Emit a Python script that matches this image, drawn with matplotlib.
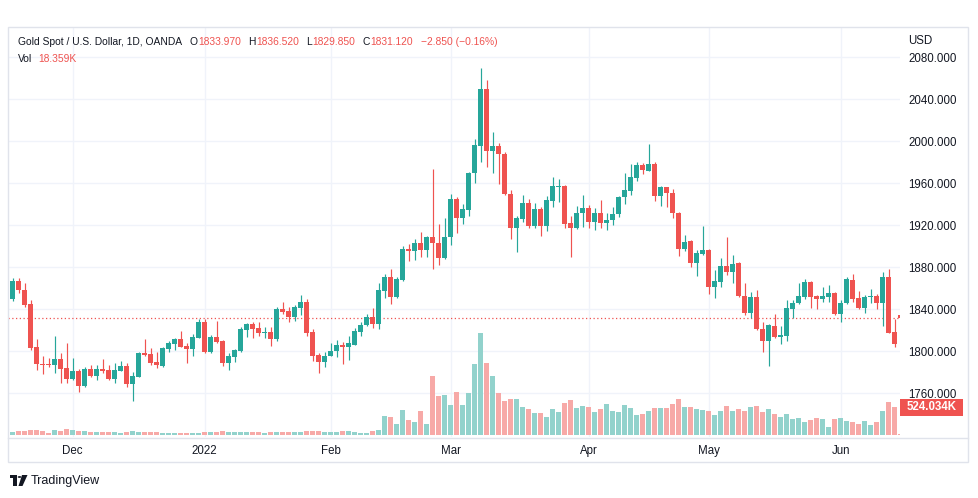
import matplotlib
matplotlib.use('Agg')
import matplotlib.pyplot as plt
from matplotlib.patches import Rectangle, Polygon, Circle
from matplotlib.lines import Line2D
import numpy as np

# ---------------- data (daily OHLC, Gold Spot / USD, OANDA) ----------------
opens = [1849.2, 1866.7, 1858.0, 1844.5, 1803.5, 1787.5, 1787.6, 1786.7, 1792.4, 1783.5,
         1773.0, 1781.3, 1767.0, 1782.5, 1776.5, 1782.8, 1781.9, 1773.3, 1781.3, 1785.7,
         1768.6, 1775.6, 1798.4, 1796.8, 1789.8, 1786.0, 1801.9, 1806.7, 1811.4, 1804.8,
         1801.9, 1812.7, 1827.9, 1798.7, 1813.0, 1809.8, 1788.9, 1794.6, 1800.0, 1820.0,
         1825.7, 1821.6, 1816.8, 1818.4, 1811.1, 1840.0, 1838.1, 1832.7, 1841.3, 1847.0,
         1817.8, 1796.2, 1789.8, 1795.5, 1800.0, 1805.7, 1803.5, 1805.7, 1818.4, 1824.8,
         1832.1, 1825.4, 1857.5, 1870.8, 1851.7, 1867.6, 1896.8, 1895.6, 1902.5, 1896.2,
         1908.3, 1902.5, 1888.3, 1908.3, 1944.7, 1927.0, 1934.3, 1969.2, 1995.5, 2049.5,
         1990.8, 1995.2, 1987.6, 1949.2, 1916.8, 1925.7, 1940.6, 1919.0, 1934.9, 1919.4,
         1943.2, 1956.5, 1957.1, 1921.6, 1917.5, 1931.1, 1935.9, 1923.2, 1931.1, 1921.6,
         1924.8, 1930.2, 1946.4, 1952.7, 1964.5, 1977.2, 1971.8, 1978.1, 1948.0, 1955.9,
         1950.8, 1931.1, 1896.9, 1904.8, 1884.2, 1892.4, 1896.2, 1861.3, 1866.0, 1880.9,
         1875.6, 1883.5, 1852.4, 1836.5, 1851.1, 1820.6, 1809.8, 1823.8, 1813.6, 1814.3,
         1840.0, 1845.4, 1851.7, 1865.4, 1852.4, 1849.2, 1851.7, 1855.5, 1835.2, 1845.4,
         1867.6, 1850.2, 1840.6, 1851.1, 1852.4, 1846.0, 1870.8, 1818.4, 1833.97]
highs = [1870.0, 1869.2, 1864.5, 1848.6, 1811.4, 1795.2, 1793.6, 1814.3, 1798.4, 1807.9,
         1793.6, 1782.5, 1784.4, 1786.7, 1786.7, 1792.1, 1786.7, 1788.3, 1790.8, 1788.9,
         1780.3, 1799.4, 1811.4, 1802.5, 1799.4, 1804.1, 1809.8, 1812.7, 1819.4, 1807.3,
         1816.2, 1830.1, 1830.1, 1815.2, 1828.6, 1810.5, 1797.8, 1801.6, 1822.5, 1827.0,
         1827.9, 1827.9, 1822.5, 1822.5, 1841.6, 1846.3, 1842.2, 1843.8, 1853.3, 1849.2,
         1820.6, 1798.4, 1798.7, 1807.9, 1810.5, 1808.9, 1814.3, 1821.6, 1827.9, 1835.2,
         1840.6, 1864.4, 1873.3, 1878.1, 1870.8, 1900.0, 1901.9, 1907.0, 1913.6, 1909.5,
         1973.3, 1920.6, 1926.3, 1949.2, 1947.0, 1940.0, 1970.8, 2001.9, 2069.8, 2058.1,
         2008.9, 1997.8, 1989.2, 1953.3, 1928.6, 1948.6, 1944.4, 1941.3, 1937.5, 1947.6,
         1965.4, 1963.8, 1958.1, 1928.6, 1938.1, 1948.6, 1939.1, 1935.9, 1943.8, 1931.8,
         1936.8, 1947.6, 1969.9, 1978.1, 1980.3, 1978.8, 1997.2, 1980.3, 1957.2, 1956.5,
         1954.0, 1932.7, 1910.5, 1905.7, 1896.2, 1919.0, 1896.8, 1877.1, 1888.3, 1908.9,
         1891.4, 1885.1, 1865.1, 1856.5, 1858.1, 1827.9, 1825.7, 1835.2, 1823.8, 1848.6,
         1848.6, 1865.1, 1868.3, 1866.7, 1853.3, 1860.6, 1862.9, 1856.5, 1848.6, 1870.2,
         1873.3, 1857.5, 1853.3, 1858.7, 1854.3, 1875.6, 1878.1, 1830.2, 1836.52]
lows = [1847.5, 1855.0, 1842.2, 1801.0, 1781.9, 1777.8, 1785.0, 1779.4, 1769.2, 1769.2,
        1772.4, 1761.3, 1765.4, 1775.0, 1772.4, 1778.8, 1772.4, 1769.2, 1780.5, 1765.4,
        1752.7, 1775.0, 1795.2, 1786.7, 1784.1, 1785.1, 1798.7, 1801.0, 1803.5, 1788.9,
        1795.6, 1812.1, 1797.8, 1797.8, 1807.9, 1786.0, 1781.9, 1789.8, 1799.4, 1813.6,
        1812.1, 1814.3, 1812.7, 1805.1, 1809.8, 1835.2, 1827.9, 1828.9, 1834.3, 1814.6,
        1790.8, 1779.4, 1785.1, 1795.2, 1794.0, 1787.6, 1791.4, 1805.4, 1814.6, 1824.1,
        1821.6, 1820.6, 1850.2, 1844.4, 1850.2, 1867.0, 1886.0, 1886.7, 1889.8, 1889.2,
        1878.1, 1881.9, 1887.6, 1900.9, 1912.7, 1920.9, 1928.6, 1960.3, 1980.3, 1975.6,
        1969.2, 1958.7, 1948.6, 1906.3, 1894.6, 1923.2, 1917.4, 1917.4, 1909.8, 1914.6,
        1936.8, 1942.2, 1916.8, 1889.9, 1915.9, 1918.4, 1917.5, 1915.3, 1917.5, 1915.3,
        1920.0, 1927.3, 1940.0, 1948.6, 1962.2, 1968.3, 1971.5, 1943.2, 1938.4, 1936.8,
        1926.4, 1890.8, 1895.6, 1880.4, 1871.8, 1891.7, 1854.3, 1850.2, 1861.3, 1872.4,
        1865.1, 1851.1, 1834.3, 1831.7, 1820.0, 1798.7, 1786.0, 1812.1, 1806.7, 1809.8,
        1831.7, 1844.8, 1849.2, 1841.3, 1840.0, 1847.0, 1847.0, 1834.3, 1827.9, 1844.8,
        1847.0, 1839.7, 1836.5, 1846.0, 1839.7, 1823.8, 1816.8, 1803.5, 1829.85]
closes = [1866.7, 1858.0, 1843.8, 1803.2, 1787.3, 1787.0, 1787.0, 1792.1, 1783.2, 1773.0,
          1781.3, 1767.0, 1782.8, 1776.2, 1782.8, 1781.3, 1773.3, 1781.9, 1785.7, 1768.6,
          1776.2, 1798.4, 1796.2, 1788.2, 1786.7, 1803.2, 1807.9, 1811.4, 1804.1, 1801.9,
          1813.0, 1827.9, 1799.4, 1813.0, 1808.9, 1788.9, 1795.2, 1801.0, 1820.6, 1825.7,
          1821.0, 1816.8, 1818.4, 1811.4, 1840.0, 1836.8, 1832.7, 1842.2, 1847.0, 1817.5,
          1795.5, 1789.8, 1795.5, 1800.0, 1805.7, 1803.5, 1807.3, 1819.0, 1824.8, 1832.1,
          1825.4, 1858.1, 1870.8, 1851.7, 1868.6, 1896.8, 1895.6, 1902.5, 1896.2, 1908.3,
          1902.5, 1888.3, 1908.3, 1944.7, 1927.0, 1935.2, 1969.8, 1996.2, 2049.5, 1990.8,
          1995.2, 1987.3, 1949.2, 1916.8, 1926.3, 1940.6, 1919.0, 1934.9, 1919.4, 1943.8,
          1957.1, 1957.5, 1920.9, 1917.5, 1931.1, 1935.9, 1923.2, 1931.1, 1921.6, 1924.8,
          1930.2, 1946.4, 1953.4, 1965.4, 1977.2, 1972.4, 1978.1, 1948.0, 1955.9, 1950.2,
          1931.1, 1896.9, 1904.2, 1884.2, 1893.0, 1895.8, 1861.3, 1866.7, 1880.9, 1875.6,
          1882.9, 1852.4, 1836.5, 1851.1, 1820.6, 1809.8, 1824.8, 1813.6, 1815.2, 1840.6,
          1845.4, 1852.4, 1865.4, 1851.7, 1849.2, 1852.4, 1855.5, 1835.2, 1845.4, 1868.3,
          1849.5, 1840.6, 1851.1, 1852.0, 1846.0, 1870.8, 1817.5, 1806.7, 1831.12]
volumes_k = [56, 75, 75, 94, 94, 75, 43, 94, 80, 112,
             94, 75, 75, 56, 56, 56, 56, 56, 37, 56,
             75, 56, 56, 56, 56, 37, 37, 37, 37, 37,
             37, 37, 56, 56, 56, 75, 56, 56, 56, 56,
             56, 56, 37, 56, 56, 56, 56, 56, 56, 75,
             75, 75, 56, 56, 56, 75, 75, 56, 37, 37,
             75, 94, 355, 331, 206, 468, 281, 243, 449, 200,
             1103, 729, 748, 561, 804, 561, 785, 1328, 1913, 1352,
             1103, 785, 636, 673, 673, 524, 486, 411, 411, 337,
             486, 436, 598, 655, 505, 542, 524, 430, 486, 580,
             449, 430, 561, 505, 374, 393, 449, 505, 505, 505,
             580, 673, 524, 524, 486, 468, 449, 374, 449, 542,
             449, 486, 449, 524, 542, 430, 486, 393, 337, 393,
             299, 318, 243, 281, 318, 299, 150, 299, 318, 262,
             243, 206, 262, 187, 243, 449, 617, 524.034, 18.359]

month_labels = ['Dec', '2022', 'Feb', 'Mar', 'Apr', 'May', 'Jun']
month_bar_index = [10, 32, 53, 73, 96, 116, 138]
price_ticks = [1760, 1800, 1840, 1880, 1920, 1960, 2000, 2040, 2080]

header_title = 'Gold Spot / U.S. Dollar, 1D, OANDA'
hdr_o, hdr_h, hdr_l, hdr_c = '1833.970', '1836.520', '1829.850', '1831.120'
hdr_chg = '\u22122.850 (\u22120.16%)'
hdr_vol = '18.359K'
vol_label = '524.034K'
last_close = 1831.12

# ---------------- style ----------------
GREEN = '#26a69a'
RED = '#ef5350'
VGREEN = '#92d2cc'
VRED = '#f7a9a7'
TXT = '#131722'
GRID = '#f0f3fa'
FONT = 'Liberation Sans'
plt.rcParams['font.family'] = [FONT, 'DejaVu Sans']

W, H = 979, 498
fig = plt.figure(figsize=(W / 100, H / 100), dpi=100)
fig.patch.set_facecolor('white')


def fx(px):
    return px / W


def fy(py):
    return 1 - py / H


pane_l, pane_r, pane_t, pane_b = 8, 900, 27, 437
rect = [fx(pane_l), fy(pane_b), (pane_r - pane_l) / W, (pane_b - pane_t) / H]
axv = fig.add_axes(rect)
ax = fig.add_axes(rect)
ax.patch.set_visible(False)

o = np.array(opens)
h = np.array(highs)
l = np.array(lows)
c = np.array(closes)
v = np.array(volumes_k)
idx = np.arange(len(o))
up = c >= o
col = np.where(up, GREEN, RED)
vcol = np.where(up, VGREEN, VRED)

XL = (-0.78, 147.9)

# price grid (drawn under volume in volume axes)
px_per_unit = 1.05
y_top_price = 2080 + (57 - pane_t) / px_per_unit
y_bot_price = 2080 - (pane_b - 57) / px_per_unit
for p in price_ticks:
    f = (p - y_bot_price) / (y_top_price - y_bot_price)
    axv.plot([0, 1], [f, f], transform=axv.transAxes, color=GRID, lw=1, zorder=0)
for m in month_bar_index:
    axv.axvline(m, color=GRID, lw=1, zorder=0)

# volume
kpx = 18.7
axv.bar(idx, v, width=0.8, color=vcol, linewidth=0, zorder=2)
axv.set_ylim(-2 * kpx, (pane_b - pane_t - 2) * kpx)
axv.set_xlim(*XL)
axv.axis('off')

# candles
ax.vlines(idx, l, h, colors=col, linewidth=0.85, zorder=3)
body = np.maximum(np.abs(c - o), 0.9)
ax.bar(idx, body, bottom=np.minimum(o, c), width=0.8, color=col, linewidth=0, zorder=4)
ax.axhline(last_close, color=RED, lw=0.9, linestyle=(0, (1, 2)), zorder=2)

ax.set_xlim(*XL)
ax.set_ylim(y_bot_price, y_top_price)
for s in ax.spines.values():
    s.set_visible(False)
ax.yaxis.tick_right()
ax.set_yticks(price_ticks)
ax.set_yticklabels(['%.3f' % p for p in price_ticks])
ax.tick_params(axis='y', length=0, pad=6, labelsize=8.3, labelcolor=TXT)
ax.set_xticks(month_bar_index)
ax.set_xticklabels(month_labels)
ax.tick_params(axis='x', length=0, pad=6, labelsize=8.3, labelcolor=TXT)

# frame
fig.add_artist(Rectangle((fx(8), fy(462)), (968 - 8) / W, (462 - 27) / H, transform=fig.transFigure,
                         fill=False, edgecolor='#e0e3eb', lw=1))
fig.add_artist(Line2D([fx(8), fx(968)], [fy(437.5), fy(437.5)], transform=fig.transFigure,
                      color='#e0e3eb', lw=1))

# header, pieces chained left to right
renderer = fig.canvas.get_renderer()
hy = fy(42)
fs = 7.4


def put(x, s, color, gap):
    t = fig.text(fx(x), hy, s, color=color, fontsize=fs, va='center')
    bb = t.get_window_extent(renderer)
    return bb.x1 + gap


x = 18
x = put(x, header_title, TXT, 7.5)
for lab, val in [('O', hdr_o), ('H', hdr_h), ('L', hdr_l), ('C', hdr_c)]:
    x = put(x, lab, TXT, 0.3)
    x = put(x, val, RED, 7.5)
put(x, hdr_chg, RED, 0)
fig.text(fx(18), fy(59), 'Vol', color=TXT, fontsize=fs, va='center')
fig.text(fx(38), fy(59), hdr_vol, color=RED, fontsize=fs, va='center')
fig.text(fx(908), fy(41), 'USD', color=TXT, fontsize=8.3, va='center')

# volume last-value label
fig.add_artist(Rectangle((fx(900), fy(416)), 63 / W, 17 / H, transform=fig.transFigure,
                         facecolor=RED, edgecolor='none'))
fig.text(fx(931.5), fy(407.5), vol_label, color='white', fontsize=8.3, fontweight='bold',
         ha='center', va='center')

# TradingView logo + text
fig.add_artist(Rectangle((fx(10), fy(478)), 7 / W, 3 / H, transform=fig.transFigure, facecolor=TXT, edgecolor='none'))
fig.add_artist(Rectangle((fx(13), fy(486)), 3.5 / W, 10 / H, transform=fig.transFigure, facecolor=TXT, edgecolor='none'))
fig.add_artist(Circle((fx(19.5), fy(477)), 1.8 / W, transform=fig.transFigure, facecolor=TXT, edgecolor='none'))
fig.add_artist(Polygon([(fx(22), fy(475)), (fx(27.5), fy(475)), (fx(22.5), fy(486)), (fx(18.5), fy(486))],
                       closed=True, transform=fig.transFigure, facecolor=TXT, edgecolor='none'))
fig.text(fx(31), fy(480.5), 'TradingView', color=TXT, fontsize=9, va='center')

fig.savefig('out.png', dpi=100, facecolor='white')
